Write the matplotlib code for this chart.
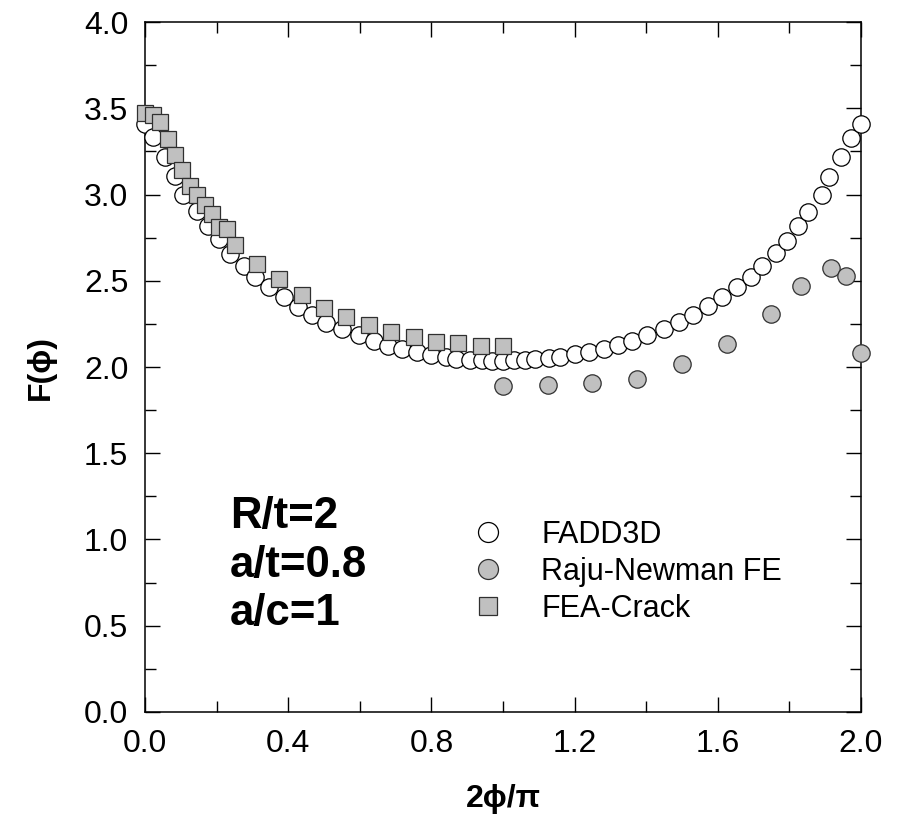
import matplotlib
matplotlib.use("Agg")
import matplotlib.pyplot as plt
from matplotlib.ticker import MultipleLocator

plt.rcParams['font.family'] = ['Liberation Sans', 'DejaVu Sans']

# FADD3D (open circles)
fadd_x = [0.0, 0.022, 0.055, 0.085, 0.105, 0.146, 0.175, 0.206, 0.236, 0.277,
          0.307, 0.347, 0.388, 0.428, 0.467, 0.506, 0.549, 0.599, 0.639, 0.68,
          0.718, 0.76, 0.8, 0.84, 0.87, 0.909, 0.94, 0.97, 1.0,
          1.03, 1.061, 1.089, 1.129, 1.159, 1.201, 1.24, 1.281, 1.32, 1.36,
          1.401, 1.451, 1.492, 1.532, 1.573, 1.613, 1.653, 1.692, 1.723, 1.763,
          1.792, 1.823, 1.853, 1.892, 1.911, 1.943, 1.972, 2.0]
fadd_y = [3.41, 3.335, 3.215, 3.11, 3.0, 2.905, 2.82, 2.74, 2.655, 2.583,
          2.52, 2.462, 2.405, 2.35, 2.302, 2.256, 2.219, 2.183, 2.152, 2.124,
          2.104, 2.085, 2.072, 2.056, 2.046, 2.04, 2.038, 2.036, 2.036,
          2.038, 2.04, 2.045, 2.05, 2.06, 2.078, 2.086, 2.105, 2.125, 2.153,
          2.186, 2.22, 2.259, 2.303, 2.354, 2.408, 2.462, 2.52, 2.586, 2.659,
          2.732, 2.817, 2.9, 2.997, 3.103, 3.216, 3.33, 3.41]

# Raju-Newman FE (gray circles)
raju_x = [1.0, 1.125, 1.25, 1.375, 1.5, 1.625, 1.75, 1.833, 1.917, 1.958, 2.0]
raju_y = [1.89, 1.895, 1.905, 1.928, 2.015, 2.135, 2.31, 2.47, 2.575, 2.53, 2.08]

# FEA-Crack (gray squares)
fea_x = [0.0, 0.021, 0.042, 0.063, 0.083, 0.104, 0.125, 0.146, 0.167, 0.188,
         0.208, 0.229, 0.25, 0.3125, 0.375, 0.4375, 0.5, 0.5625, 0.625, 0.6875,
         0.75, 0.8125, 0.875, 0.9375, 1.0]
fea_y = [3.47, 3.46, 3.42, 3.32, 3.23, 3.14, 3.05, 3.0, 2.94, 2.885,
         2.81, 2.80, 2.71, 2.597, 2.51, 2.417, 2.344, 2.288, 2.243, 2.201,
         2.172, 2.145, 2.137, 2.122, 2.122]

labels = ["FADD3D", "Raju-Newman FE", "FEA-Crack"]
notes = ["R/t=2", "a/t=0.8", "a/c=1"]

fig = plt.figure(figsize=(9.02, 8.34), dpi=100)
ax = fig.add_axes([0.1608, 0.1463, 0.7937, 0.8273])

gray = '#c0c0c0'
ax.plot(fadd_x, fadd_y, 'o', ms=12.5, mfc='white', mec='black', mew=0.9,
        clip_on=False, label=labels[0], zorder=3)
ax.plot(raju_x, raju_y, 'o', ms=12.5, mfc=gray, mec='#303030', mew=0.9,
        clip_on=False, label=labels[1], zorder=3)
ax.plot(fea_x, fea_y, 's', ms=11, mfc=gray, mec='#303030', mew=0.9,
        clip_on=False, label=labels[2], zorder=4)

ax.set_xlim(0, 2.0)
ax.set_ylim(0, 4.0)
ax.xaxis.set_major_locator(MultipleLocator(0.4))
ax.xaxis.set_minor_locator(MultipleLocator(0.2))
ax.yaxis.set_major_locator(MultipleLocator(0.5))
ax.yaxis.set_minor_locator(MultipleLocator(0.25))
ax.xaxis.set_major_formatter(plt.FormatStrFormatter('%.1f'))
ax.yaxis.set_major_formatter(plt.FormatStrFormatter('%.1f'))

ax.tick_params(which='both', direction='in', top=True, right=True, width=1.0)
ax.tick_params(which='major', length=11, labelsize=23, pad=12)
ax.tick_params(which='minor', length=8)
for s in ax.spines.values():
    s.set_linewidth(1.1)

ax.set_xlabel("2\u03d5/\u03c0", fontsize=23, fontweight='bold', labelpad=18)
ax.set_ylabel("F(\u03d5)", fontsize=23, fontweight='bold', labelpad=20)

note_y = [0.2667, 0.1957, 0.126]
for t, yy in zip(notes, note_y):
    ax.text(0.119, yy, t, transform=ax.transAxes,
            fontsize=31.5, fontweight='bold', va='baseline', ha='left')

ax.legend(loc='upper left', bbox_to_anchor=(0.447, 0.278), frameon=False,
          fontsize=22, handletextpad=1.0, labelspacing=0.22,
          handlelength=1.5, borderaxespad=0, borderpad=0, markerscale=1.15)

fig.savefig("out.png", dpi=100)
